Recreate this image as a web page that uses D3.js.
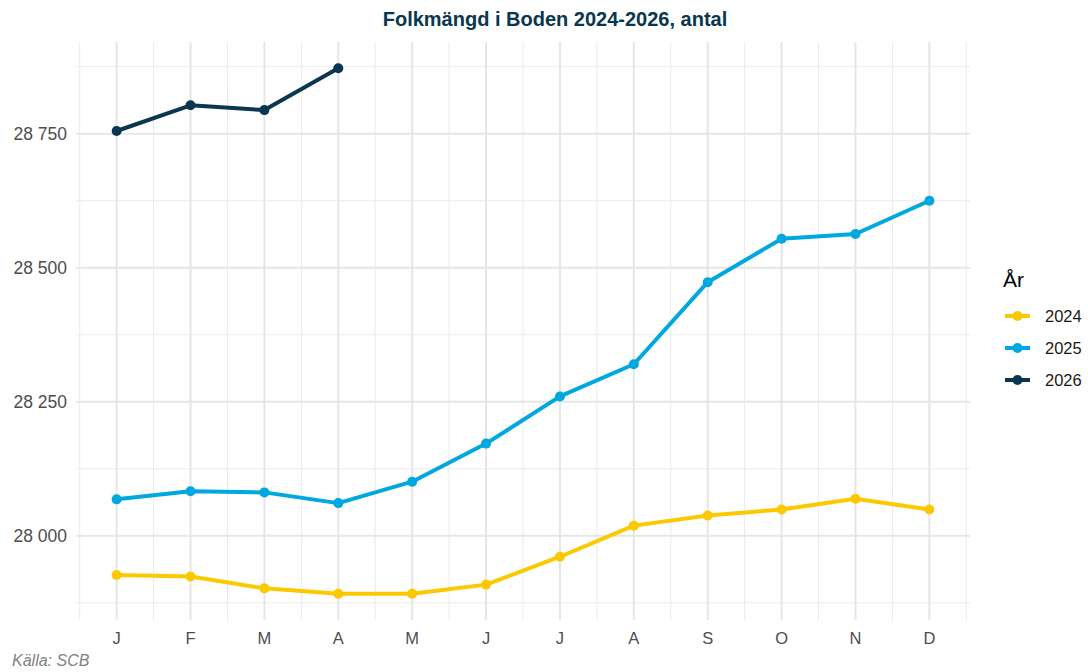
<!DOCTYPE html>
<html>
<head>
<meta charset="utf-8">
<script src="https://cdn.jsdelivr.net/npm/d3@7"></script>
<style>
  body { margin: 0; background: #fff; }
  text { font-family: "Liberation Sans", Arial, sans-serif; }
</style>
</head>
<body>
<div id="chart"></div>
<script>
// monthly population, Boden
const months = ["J", "F", "M", "A", "M", "J", "J", "A", "S", "O", "N", "D"];
const years = ["2024", "2025", "2026"];
const values2024 = [27927, 27924, 27902, 27892, 27892, 27909, 27961, 28019, 28038, 28049, 28069, 28049];
const values2025 = [28068, 28083, 28081, 28061, 28101, 28172, 28260, 28320, 28473, 28554, 28563, 28625];
const values2026 = [28755, 28803, 28794, 28872];
const yTicks = [28000, 28250, 28500, 28750];
const colors = { "2024": "#fcc800", "2025": "#00a8e0", "2026": "#0a3650" };

const series = [
  { year: "2024", values: values2024 },
  { year: "2025", values: values2025 },
  { year: "2026", values: values2026 }
];

const width = 1088, height = 672;
const panel = { left: 76, right: 970, top: 42, bottom: 620 };

const svg = d3.select("#chart").append("svg")
    .attr("width", width)
    .attr("height", height);

const allVals = series.flatMap(s => s.values);
const yMin = d3.min(allVals), yMax = d3.max(allVals);
const yPad = (yMax - yMin) * 0.05;

const x = d3.scaleLinear()
    .domain([1 - 0.55, 12 + 0.55])
    .range([panel.left, panel.right]);

const y = d3.scaleLinear()
    .domain([yMin - yPad, yMax + yPad])
    .range([panel.bottom, panel.top]);

// grid
const grid = svg.append("g");
const xMinor = d3.range(0.5, 13, 1);
const yMinor = yTicks.map(t => t - 125).concat([yTicks[yTicks.length - 1] + 125]);

grid.selectAll(".xminor").data(xMinor).enter().append("line")
    .attr("x1", d => x(d)).attr("x2", d => x(d))
    .attr("y1", panel.top).attr("y2", panel.bottom)
    .attr("stroke", "#ebebeb").attr("stroke-width", 1);
grid.selectAll(".yminor").data(yMinor).enter().append("line")
    .attr("x1", panel.left).attr("x2", panel.right)
    .attr("y1", d => y(d)).attr("y2", d => y(d))
    .attr("stroke", "#ebebeb").attr("stroke-width", 1);
grid.selectAll(".xmajor").data(d3.range(1, 13)).enter().append("line")
    .attr("x1", d => x(d)).attr("x2", d => x(d))
    .attr("y1", panel.top).attr("y2", panel.bottom)
    .attr("stroke", "#e6e6e6").attr("stroke-width", 2);
grid.selectAll(".ymajor").data(yTicks).enter().append("line")
    .attr("x1", panel.left).attr("x2", panel.right)
    .attr("y1", d => y(d)).attr("y2", d => y(d))
    .attr("stroke", "#e6e6e6").attr("stroke-width", 2);

// axes labels
const fmt = v => d3.format(",")(v).replace(",", " ");
svg.append("g").selectAll("text").data(yTicks).enter().append("text")
    .attr("x", 67)
    .attr("y", d => y(d))
    .attr("dy", "0.35em")
    .attr("text-anchor", "end")
    .attr("fill", "#4d4d4d")
    .style("font-size", "17.5px")
    .text(d => fmt(d));

svg.append("g").selectAll("text").data(months).enter().append("text")
    .attr("x", (d, i) => x(i + 1))
    .attr("y", 644)
    .attr("text-anchor", "middle")
    .attr("fill", "#4d4d4d")
    .style("font-size", "16.5px")
    .text(d => d);

// lines + points
const line = d3.line()
    .x((d, i) => x(i + 1))
    .y(d => y(d));

series.forEach(s => {
    const g = svg.append("g");
    g.append("path")
        .datum(s.values)
        .attr("d", line)
        .attr("fill", "none")
        .attr("stroke", colors[s.year])
        .attr("stroke-width", 4)
        .attr("stroke-linejoin", "round");
    g.selectAll("circle").data(s.values).enter().append("circle")
        .attr("cx", (d, i) => x(i + 1))
        .attr("cy", d => y(d))
        .attr("r", 5)
        .attr("fill", colors[s.year]);
});

// title
svg.append("text")
    .attr("x", 555)
    .attr("y", 26)
    .attr("text-anchor", "middle")
    .attr("fill", "#0a3650")
    .style("font-size", "20px")
    .style("font-weight", "bold")
    .text("Folkmängd i Boden 2024-2026, antal");

// legend
const legend = svg.append("g");
legend.append("text")
    .attr("x", 1003)
    .attr("y", 287)
    .attr("fill", "#000")
    .style("font-size", "21px")
    .text("År");

years.forEach((yr, i) => {
    const ly = 316 + i * 32;
    legend.append("line")
        .attr("x1", 1005).attr("x2", 1030)
        .attr("y1", ly).attr("y2", ly)
        .attr("stroke", colors[yr])
        .attr("stroke-width", 4);
    legend.append("circle")
        .attr("cx", 1017.5).attr("cy", ly).attr("r", 5)
        .attr("fill", colors[yr]);
    legend.append("text")
        .attr("x", 1045)
        .attr("y", ly)
        .attr("dy", "0.35em")
        .attr("fill", "#1a1a1a")
        .style("font-size", "16.5px")
        .text(yr);
});

// caption
svg.append("text")
    .attr("x", 12)
    .attr("y", 666)
    .attr("fill", "#808080")
    .style("font-size", "16px")
    .style("font-style", "italic")
    .text("Källa: SCB");
</script>
</body>
</html>
